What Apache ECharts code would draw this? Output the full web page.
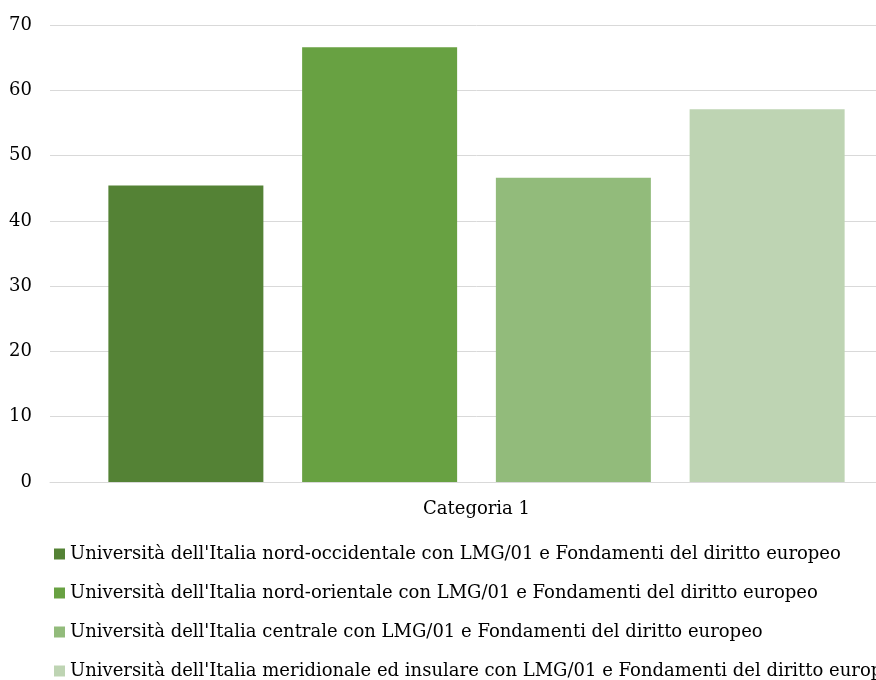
<!DOCTYPE html>
<html>
<head>
<meta charset="utf-8">
<script src="https://cdn.jsdelivr.net/npm/echarts@6/dist/echarts.min.js"></script>
<style>
  html, body { margin: 0; padding: 0; background: #fff; overflow: hidden; }
  /* plot area runs past the right edge of the picture */
  #chart { width: 903px; height: 680px; }
</style>
</head>
<body>
<div id="chart"></div>
<script>
  var categories = ['Categoria 1'];
  var seriesNames = [
    "Università dell'Italia nord-occidentale con LMG/01 e Fondamenti del diritto europeo",
    "Università dell'Italia nord-orientale con LMG/01 e Fondamenti del diritto europeo",
    "Università dell'Italia centrale con LMG/01 e Fondamenti del diritto europeo",
    "Università dell'Italia meridionale ed insulare con LMG/01 e Fondamenti del diritto europeo"
  ];
  var values = [45.4, 66.6, 46.6, 57.1];
  var colors = ['#548235', '#68a142', '#92bb7b', '#bed4b3'];

  var font = 'DejaVu Serif';
  var myChart = echarts.init(document.getElementById('chart'));

  var series = seriesNames.map(function(name, i) {
    return {
      name: name,
      type: 'bar',
      data: [values[i]],
      barWidth: 155,
      barGap: '25%',
      itemStyle: { color: colors[i] }
    };
  });

  myChart.setOption({
    animation: false,
    textStyle: { fontFamily: font },
    grid: { left: 50, right: 0, top: 25, height: 457 },
    legend: {
      orient: 'vertical',
      left: 49,
      top: 540,
      height: 220,
      itemWidth: 11,
      itemHeight: 11,
      itemGap: 21,
      icon: 'rect',
      textStyle: { fontFamily: font, fontSize: 18, color: '#000' },
      data: seriesNames
    },
    xAxis: {
      type: 'category',
      data: categories,
      axisLine: { lineStyle: { color: '#d9d9d9' } },
      axisTick: { show: false },
      axisLabel: { fontFamily: font, fontSize: 18, color: '#000', margin: 18 }
    },
    yAxis: {
      type: 'value',
      min: 0,
      max: 70,
      interval: 10,
      axisLine: { show: false },
      axisTick: { show: false },
      splitLine: { lineStyle: { color: '#d9d9d9', width: 1 } },
      axisLabel: { fontFamily: font, fontSize: 18, color: '#000', margin: 18 }
    },
    series: series
  });
</script>
</body>
</html>
